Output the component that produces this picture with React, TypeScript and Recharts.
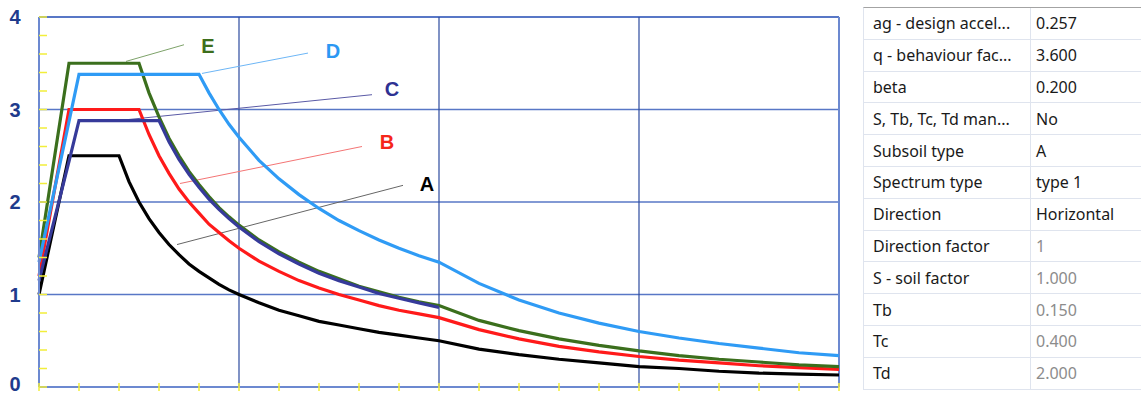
import { LineChart, Line, XAxis, YAxis, ReferenceLine, ReferenceDot } from "recharts"

// period T [s]
const periods = [0, 0.15, 0.2, 0.25, 0.3, 0.35, 0.4, 0.45, 0.5, 0.55, 0.6, 0.65, 0.7, 0.75, 0.8, 0.85, 0.9, 0.95, 1.0, 1.1, 1.2, 1.3, 1.4, 1.5, 1.6, 1.7, 1.8, 1.9, 2.0, 2.2, 2.4, 2.6, 2.8, 3.0, 3.2, 3.4, 3.6, 3.8, 4.0]

// Se/ag, one list per subsoil type
const soilA = [1.0, 2.5, 2.5, 2.5, 2.5, 2.5, 2.5, 2.22, 2.0, 1.82, 1.67, 1.54, 1.43, 1.33, 1.25, 1.18, 1.11, 1.05, 1.0, 0.91, 0.83, 0.77, 0.71, 0.67, 0.63, 0.59, 0.56, 0.53, 0.5, 0.41, 0.35, 0.3, 0.26, 0.22, 0.2, 0.17, 0.15, 0.14, 0.13]
const soilB = [1.2, 3.0, 3.0, 3.0, 3.0, 3.0, 3.0, 3.0, 3.0, 2.73, 2.5, 2.31, 2.14, 2.0, 1.88, 1.76, 1.67, 1.58, 1.5, 1.36, 1.25, 1.15, 1.07, 1.0, 0.94, 0.88, 0.83, 0.79, 0.75, 0.62, 0.52, 0.44, 0.38, 0.33, 0.29, 0.26, 0.23, 0.21, 0.19]
const soilC = [1.15, 2.44, 2.88, 2.88, 2.88, 2.88, 2.88, 2.88, 2.88, 2.88, 2.88, 2.65, 2.46, 2.3, 2.16, 2.03, 1.92, 1.82, 1.73, 1.57, 1.44, 1.33, 1.23, 1.15, 1.08, 1.01, 0.96, 0.91, 0.86, null, null, null, null, null, null, null, null, null, null]
const soilD = [1.35, 2.87, 3.38, 3.38, 3.38, 3.38, 3.38, 3.38, 3.38, 3.38, 3.38, 3.38, 3.38, 3.38, 3.38, 3.18, 3.0, 2.84, 2.7, 2.45, 2.25, 2.08, 1.93, 1.8, 1.69, 1.59, 1.5, 1.42, 1.35, 1.12, 0.94, 0.8, 0.69, 0.6, 0.53, 0.47, 0.42, 0.37, 0.34]
const soilE = [1.4, 3.5, 3.5, 3.5, 3.5, 3.5, 3.5, 3.5, 3.5, 3.18, 2.92, 2.69, 2.5, 2.33, 2.19, 2.06, 1.94, 1.84, 1.75, 1.59, 1.46, 1.35, 1.25, 1.17, 1.09, 1.03, 0.97, 0.92, 0.88, 0.72, 0.61, 0.52, 0.45, 0.39, 0.34, 0.3, 0.27, 0.24, 0.22]

const xTicks = [0, 0.2, 0.4, 0.6, 0.8, 1, 1.2, 1.4, 1.6, 1.8, 2, 2.2, 2.4, 2.6, 2.8, 3, 3.2, 3.4, 3.6, 3.8, 4]
const yTicks = [0, 0.2, 0.4, 0.6, 0.8, 1, 1.2, 1.4, 1.6, 1.8, 2, 2.2, 2.4, 2.6, 2.8, 3, 3.2, 3.4, 3.6, 3.8, 4]
const gridValues = [1, 2, 3, 4]

// callout labels (letter, leader line start/end, text position) in chart units
const callouts = [
  { name: "E", color: "#3d6e1c", lineColor: "#7ea36a", from: [0.435, 3.52], to: [0.725, 3.7], at: [0.845, 3.69] },
  { name: "D", color: "#2b98f3", lineColor: "#6db6f6", from: [0.815, 3.39], to: [1.345, 3.61], at: [1.47, 3.63] },
  { name: "C", color: "#2e3192", lineColor: "#5a5aa6", from: [0.44, 2.89], to: [1.665, 3.16], at: [1.765, 3.22] },
  { name: "B", color: "#f5261a", lineColor: "#f47575", from: [0.705, 2.2], to: [1.615, 2.6], at: [1.74, 2.65] },
  { name: "A", color: "#000000", lineColor: "#666666", from: [0.69, 1.54], to: [1.82, 2.18], at: [1.94, 2.2] },
]

const tableLabels = ["ag - design accel...", "q - behaviour fac...", "beta", "S, Tb, Tc, Td man...", "Subsoil type", "Spectrum type", "Direction", "Direction factor", "S - soil factor", "Tb", "Tc", "Td"]
const tableValues = ["0.257", "3.600", "0.200", "No", "A", "type 1", "Horizontal", "1", "1.000", "0.150", "0.400", "2.000"]
const readOnlyFrom = 7

const data = periods.map((t, i) => ({
  t,
  A: soilA[i],
  B: soilB[i],
  C: soilC[i],
  D: soilD[i],
  E: soilE[i],
}))

const axisColor = "#6c89d0"

function YTick({ x, y, payload }: any) {
  const v = payload.value
  const whole = Math.abs(v - Math.round(v)) < 1e-6
  // the 0 sits on the bottom edge, nudge it up so it stays inside
  const ty = v === 0 ? y - 3 : y
  return (
    <g>
      <line x1={x} x2={x + 8} y1={y} y2={y} stroke="#f2ee3a" strokeWidth={1.5} />
      {whole && (
        <text
          x={x - 24}
          y={ty}
          dy="0.36em"
          textAnchor="middle"
          fill="#1f3b8c"
          fontSize={20}
          fontWeight="bold"
          fontFamily="Liberation Sans, Arial, sans-serif"
        >
          {Math.round(v)}
        </text>
      )}
    </g>
  )
}

function XTick({ x, y }: any) {
  return <line x1={x} x2={x} y1={y - 4} y2={y + 4} stroke="#f2ee3a" strokeWidth={1.5} />
}

function SpectrumChart() {
  return (
    <LineChart width={860} height={394} data={data} margin={{ top: 17, right: 21, bottom: 0, left: 0 }}>
      <XAxis
        dataKey="t"
        type="number"
        domain={[0, 4]}
        ticks={xTicks}
        interval={0}
        height={7}
        tickSize={0}
        tickMargin={0}
        tickLine={false}
        axisLine={{ stroke: axisColor, strokeWidth: 2 }}
        tick={<XTick />}
      />
      <YAxis
        type="number"
        domain={[0, 4]}
        ticks={yTicks}
        interval={0}
        width={39}
        tickSize={0}
        tickMargin={0}
        tickLine={false}
        axisLine={{ stroke: axisColor, strokeWidth: 2 }}
        tick={<YTick />}
      />
      {gridValues.map((v) => (
        <ReferenceLine key={"h" + v} y={v} stroke="#5877c6" strokeWidth={v === 4 ? 2 : 1.6} />
      ))}
      {gridValues.map((v) => (
        <ReferenceLine key={"v" + v} x={v} stroke={v === 4 ? axisColor : "#2c4a9e"} strokeWidth={v === 4 ? 2 : 1.2} />
      ))}
      {callouts.map((c) => (
        <ReferenceLine
          key={"l" + c.name}
          segment={[
            { x: c.from[0], y: c.from[1] },
            { x: c.to[0], y: c.to[1] },
          ]}
          stroke={c.lineColor}
          strokeWidth={1}
        />
      ))}
      <Line type="linear" dataKey="A" stroke="#000000" strokeWidth={3.2} dot={false} isAnimationActive={false} />
      <Line type="linear" dataKey="B" stroke="#ff1a1a" strokeWidth={3.2} dot={false} isAnimationActive={false} />
      <Line type="linear" dataKey="E" stroke="#3b6f1d" strokeWidth={3.2} dot={false} isAnimationActive={false} />
      <Line type="linear" dataKey="C" stroke="#363a9a" strokeWidth={3.2} dot={false} isAnimationActive={false} />
      <Line type="linear" dataKey="D" stroke="#2f9bf5" strokeWidth={3.2} dot={false} isAnimationActive={false} />
      {callouts.map((c) => (
        <ReferenceDot
          key={"t" + c.name}
          x={c.at[0]}
          y={c.at[1]}
          r={0}
          stroke="none"
          fill="none"
          label={{
            value: c.name,
            position: "center",
            fill: c.color,
            fontSize: 20,
            fontWeight: "bold",
            fontFamily: "Liberation Sans, Arial, sans-serif",
          }}
        />
      ))}
    </LineChart>
  )
}

function ParamTable() {
  return (
    <div
      style={{
        position: "absolute",
        left: 863,
        top: 7,
        width: 300,
        borderTop: "1px solid #a3a3a3",
        borderLeft: "1px solid #dfe4ee",
        fontFamily: "'Noto Sans', sans-serif",
        fontSize: 16,
      }}
    >
      {tableLabels.map((label, i) => (
        <div key={label} style={{ display: "flex", height: 31.8, borderBottom: "1px solid #dfe4ee", boxSizing: "border-box" }}>
          <div
            style={{
              width: 167,
              paddingLeft: 9,
              boxSizing: "border-box",
              borderRight: "1px solid #dfe4ee",
              display: "flex",
              alignItems: "center",
              color: "#1a1a1a",
              whiteSpace: "nowrap",
              overflow: "hidden",
            }}
          >
            {label}
          </div>
          <div
            style={{
              paddingLeft: 5,
              display: "flex",
              alignItems: "center",
              color: i >= readOnlyFrom ? "#8c8c8c" : "#1a1a1a",
              whiteSpace: "nowrap",
            }}
          >
            {tableValues[i]}
          </div>
        </div>
      ))}
    </div>
  )
}

export default function App() {
  return (
    <div style={{ position: "absolute", left: 0, top: 0, width: 1141, height: 394, overflow: "hidden", background: "#fff" }}>
      <SpectrumChart />
      <ParamTable />
    </div>
  )
}
